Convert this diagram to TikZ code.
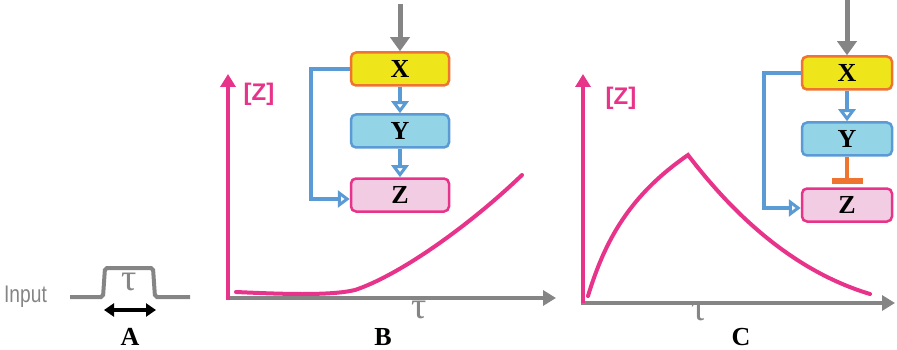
\documentclass[tikz,border=0pt]{standalone}
\usepackage{fontspec}
\setmainfont{Liberation Serif}
\setsansfont{Liberation Sans}
\usetikzlibrary{arrows.meta}
\definecolor{pinkax}{HTML}{E8338A}
\definecolor{grayln}{HTML}{858585}
\definecolor{bluln}{HTML}{5B9BD5}
\definecolor{yelfill}{HTML}{EEE51A}
\definecolor{orgln}{HTML}{EE7430}
\definecolor{cyanfill}{HTML}{93D5E6}
\definecolor{zfill}{HTML}{F2CCE3}
\begin{document}
\begin{tikzpicture}[x=1pt,y=-1pt,
  genebox/.style={rounded corners=5pt, line width=2.5pt, minimum width=98pt, minimum height=33pt, font=\fontsize{26}{26}\selectfont\bfseries},
  xbox/.style={genebox, draw=orgln, fill=yelfill},
  ybox/.style={genebox, draw=bluln, fill=cyanfill},
  zbox/.style={genebox, draw=pinkax, fill=zfill},
  blu/.style={draw=bluln, line width=4.5pt, -{Triangle[open, length=12pt, width=17pt, line width=3pt]}},
  grarr/.style={draw=grayln, line width=5pt, -{Triangle[length=14pt, width=19pt]}},
  axis/.style={line width=4.5pt, -{Triangle[length=13pt, width=15pt]}},
  curve/.style={draw=pinkax, line width=4pt, line cap=round},
  zlab/.style={text=pinkax, font=\sffamily\bfseries\fontsize{24}{24}\selectfont},
  taulab/.style={text=grayln, font=\fontsize{38}{38}\selectfont},
  panlab/.style={font=\bfseries\fontsize{26}{26}\selectfont}]
\useasboundingbox (0,0) rectangle (897,350);
% Panel A
\node[text=grayln, font=\sffamily\fontsize{24}{24}\selectfont, xscale=0.8, anchor=west, inner sep=0pt] (inp) at (4,297) {Input};
\coordinate (p0) at (70,297);
\coordinate (p1) at (190,297);
\draw[grayln, line width=4pt, rounded corners=2pt] (p0) -- (103,297) -- (105,268) -- (153,268) -- (155,297) -- (p1);
\node[taulab] (tauA) at (129,282) {τ};
\coordinate (da) at (104,310);
\coordinate (db) at (156,310);
\draw[line width=3.5pt, {Triangle[length=10pt,width=13pt]}-{Triangle[length=10pt,width=13pt]}] (da) -- (db);
\node[panlab] (labA) at (130,337) {A};
% Panel B
\coordinate (oB) at (228,300);
\coordinate (yB) at (228,74);
\coordinate (xB) at (556,298);
\draw[axis, grayln] (226,298) -- (xB);
\draw[axis, pinkax] (oB) -- (yB);
\node[zlab] (zB) at (259,94) {[Z]};
\node[taulab] (tauB) at (419,310) {τ};
\node[panlab] (labB) at (383,337) {B};
\draw[curve] (236,292) .. controls (280,294) and (330,296) .. (355,290) .. controls (400,275) and (470,225) .. (522,175);
\node[xbox] (XB) at (400,69) {X};
\node[ybox] (YB) at (400,131) {Y};
\node[zbox] (ZB) at (400,195) {Z};
\coordinate (inB) at (400,4);
\draw[grarr] (inB) -- (XB.north);
\draw[blu] (XB) -- (YB);
\draw[blu] (YB) -- (ZB);
\draw[blu] (XB.west) -- (311,69) -- (311,199) -- (ZB.west |- 0,199);
% Panel C
\coordinate (oC) at (583,303);
\coordinate (yC) at (583,74);
\coordinate (xC) at (895,303);
\draw[axis, grayln] (581,303) -- (xC);
\draw[axis, pinkax] (oC) -- (yC);
\node[zlab] (zC) at (621,98) {[Z]};
\node[taulab] (tauC) at (699,312) {τ};
\node[panlab] (labC) at (741,337) {C};
\draw[curve] (588,296) .. controls (605,240) and (630,195) .. (688,155) .. controls (730,210) and (790,270) .. (870,294);
\node[xbox, minimum width=90pt] (XC) at (847,73) {X};
\node[ybox, minimum width=90pt] (YC) at (847,139) {Y};
\node[zbox, minimum width=90pt] (ZC) at (847,205) {Z};
\coordinate (inC) at (847,0);
\draw[grarr] (inC) -- (XC.north);
\draw[blu] (XC) -- (YC);
\coordinate (barC) at (847,181);
\draw[orgln, line width=4.5pt] (YC.south) -- (barC);
\draw[orgln, line width=6pt] (832,181) -- (863,181);
\draw[blu] (XC.west) -- (764,73) -- (764,208) -- (XC.west |- 0,208);
\end{tikzpicture}
\end{document}
